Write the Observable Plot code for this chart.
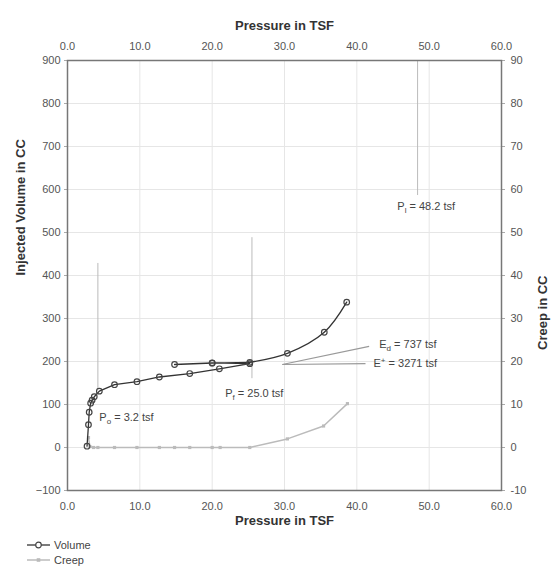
<!DOCTYPE html>
<html><head><meta charset="utf-8">
<script src="https://cdn.jsdelivr.net/npm/d3@7"></script>
<script src="https://cdn.jsdelivr.net/npm/@observablehq/plot@0.6"></script>
<style>
body{margin:0;background:#fff;font-family:"Liberation Sans",Arial,sans-serif;}
#legend text{font-family:"Liberation Sans",Arial,sans-serif;font-size:11px;fill:#444;}
#legend svg{display:block;}
</style></head><body>
<div id="chart"></div>
<div id="legend"></div>
<script>
// ---- data ----
const pressureTicks = [0, 10, 20, 30, 40, 50, 60];
const volumeTicks = [-100, 0, 100, 200, 300, 400, 500, 600, 700, 800, 900];
const creepScale = 10; // right axis (creep, -10..90) shares the grid of the left axis (-100..900)

// Volume curve (loading, unload/reload loop, then final loading)
const volPressure = [2.7, 2.9, 3.0, 3.2, 3.4, 3.7, 4.4, 6.5, 9.6, 12.7, 16.9, 21.0, 25.2, 20.0, 14.8, 20.0, 25.2, 30.4, 35.5, 38.6];
const volValue    = [3,   53,  82,  103, 110, 118, 131, 146, 153, 164,  172,  183,  195,  197,  193,  196,  198,  219,  268,  338];
const volSmoothFrom = 16; // index where the smoothed final branch starts

// Creep
const creepPressure = [2.9, 3.1, 3.6, 4.2, 6.5, 9.6, 12.7, 14.8, 16.9, 20.0, 21.1, 25.2, 30.4, 35.4, 38.7];
const creepValue    = [2.3, 0.2, 0,   0,   0,   0,   0,    0,    0,    0,    0,    0,    2.0,  5.0,  10.2];

// Reference pressures (vertical lines)
const refPressure = [4.2, 25.5, 48.4];
const refFrom     = [135, 160, 586];
const refTo       = [428, 488, 900];

// Modulus tangent lines
const tanX1 = [29.7, 29.7];
const tanY1 = [193, 193];
const tanX2 = [41.7, 41.2];
const tanY2 = [235, 195];

// Annotations
const annotMain = ["P", "P", "P", "E", "E"];
const annotSub  = ["o", "f", "l", "d", "+"];
const annotSup  = [false, false, false, false, true];
const annotRest = [" = 3.2 tsf", " = 25.0 tsf", " = 48.2 tsf", " = 737 tsf", " = 3271 tsf"];
const annotX    = [4.4, 21.8, 45.6, 43.1, 42.3];
const annotY    = [70, 126, 560, 240, 195];

const seriesNames = ["Volume", "Creep"];

// ---- build tables ----
const vol = volPressure.map((p, i) => ({p, v: volValue[i], i}));
const creep = creepPressure.map((p, i) => ({p, v: creepValue[i] * creepScale}));
const refs = refPressure.map((p, i) => ({p, y1: refFrom[i], y2: refTo[i]}));
const tans = tanX1.map((x, i) => ({x1: x, y1: tanY1[i], x2: tanX2[i], y2: tanY2[i]}));
const annots = annotMain.map((m, i) => ({t: m + annotSub[i] + annotRest[i], x: annotX[i], y: annotY[i], i}));

const font = "Liberation Sans, Arial, sans-serif";
const chart = Plot.plot({
  width: 557, height: 535,
  marginLeft: 67, marginRight: 56, marginTop: 60, marginBottom: 45,
  style: {fontFamily: font, fontSize: "11px", color: "#555", background: "white"},
  x: {domain: [0, 60]},
  y: {domain: [-100, 900]},
  marks: [
    Plot.gridX(pressureTicks, {stroke: "#e6e6e6", strokeOpacity: 1}),
    Plot.gridY(volumeTicks, {stroke: "#e6e6e6", strokeOpacity: 1}),
    Plot.axisX({anchor: "top", ticks: pressureTicks, tickFormat: d3.format(".1f"), tickSize: 0, tickPadding: 11, label: null, fill: "#555"}),
    Plot.axisX({anchor: "bottom", ticks: pressureTicks, tickFormat: d3.format(".1f"), tickSize: 0, tickPadding: 12, label: null, fill: "#555"}),
    Plot.axisY({anchor: "left", ticks: volumeTicks, tickSize: 3, tickPadding: 4, label: null, stroke: "#aaa", fill: "#555"}),
    Plot.axisY({anchor: "right", ticks: volumeTicks, tickFormat: d => d / creepScale, tickSize: 3, tickPadding: 6, label: null, stroke: "#aaa", fill: "#555"}),
    Plot.ruleX(refs, {x: "p", y1: "y1", y2: "y2", stroke: "#bbb", strokeWidth: 1}),
    Plot.link(tans, {x1: "x1", y1: "y1", x2: "x2", y2: "y2", stroke: "#999", strokeWidth: 1.2}),
    Plot.line(creep, {x: "p", y: "v", stroke: "#bbb", strokeWidth: 1.5}),
    Plot.dot(creep, {x: "p", y: "v", symbol: "square", r: 1.8, fill: "#bbb"}),
    Plot.line(vol.filter(d => d.i <= volSmoothFrom), {x: "p", y: "v", stroke: "#333", strokeWidth: 1.3}),
    Plot.line(vol.filter(d => d.i >= volSmoothFrom), {x: "p", y: "v", stroke: "#333", strokeWidth: 1.3, curve: "catmull-rom"}),
    Plot.dot(vol, {x: "p", y: "v", r: 2.8, stroke: "#444", strokeWidth: 1.2, fill: "none"}),
    Plot.text(annots, {x: "x", y: "y", text: "t", textAnchor: "start", fill: "#444", fontSize: 11}),
    Plot.frame({stroke: "#777", strokeWidth: 1.5}),
    Plot.text(["Pressure in TSF"], {frameAnchor: "top", dy: -40, fontWeight: "bold", fontSize: 13, fill: "#333"}),
    Plot.text(["Pressure in TSF"], {frameAnchor: "bottom", dy: 34, fontWeight: "bold", fontSize: 13, fill: "#333"}),
    Plot.text(["Injected Volume in CC"], {frameAnchor: "left", dx: -47, rotate: -90, fontWeight: "bold", fontSize: 13, fill: "#333"}),
    Plot.text(["Creep in CC"], {frameAnchor: "right", dx: 41, rotate: -90, fontWeight: "bold", fontSize: 13, fill: "#333"})
  ]
});
document.getElementById("chart").appendChild(chart);

// subscripts / superscripts in annotation labels
const labelIndex = new Map(annots.map(a => [a.t, a.i]));
d3.select(chart).selectAll("text").each(function() {
  const i = labelIndex.get(this.textContent);
  if (i === undefined) return;
  const t = d3.select(this);
  t.text(null);
  t.append("tspan").text(annotMain[i]);
  t.append("tspan").attr("font-size", 8).attr("dy", annotSup[i] ? -4 : 3).text(annotSub[i]);
  t.append("tspan").attr("dy", annotSup[i] ? 4 : -3).text(annotRest[i]);
});

// legend below the chart
const leg = d3.select("#legend").append("svg").attr("width", 557).attr("height", 32);
seriesNames.forEach((name, i) => {
  const g = leg.append("g").attr("transform", `translate(27,${10 + i * 15})`);
  g.append("line").attr("x1", 0).attr("x2", 23).attr("stroke", i === 0 ? "#333" : "#bbb").attr("stroke-width", i === 0 ? 1.3 : 1.5);
  if (i === 0) g.append("circle").attr("cx", 11.5).attr("r", 2.8).attr("fill", "white").attr("stroke", "#444").attr("stroke-width", 1.2);
  else g.append("rect").attr("x", 9.7).attr("y", -1.8).attr("width", 3.6).attr("height", 3.6).attr("fill", "#bbb");
  g.append("text").attr("x", 27).attr("dy", "0.35em").text(name);
});
</script>
</body></html>
